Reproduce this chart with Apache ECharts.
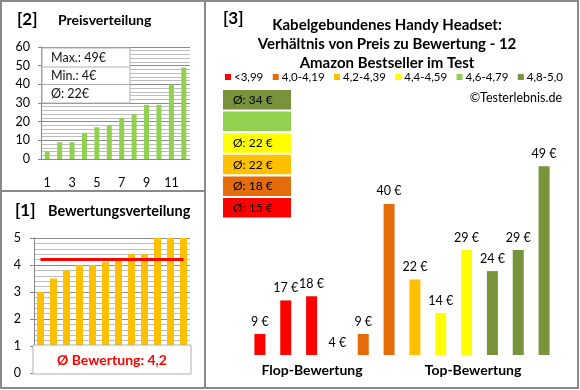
<!DOCTYPE html>
<html><head><meta charset="utf-8">
<script src="https://cdn.jsdelivr.net/npm/echarts@6/dist/echarts.min.js"></script>
<style>html,body{margin:0;padding:0;background:#fff}#c{width:580px;height:390px}</style>
</head><body><div id="c"></div>
<script>
// ---- data ----
const priceCats = ['1','2','3','4','5','6','7','8','9','10','11','12'];
const pricesSorted = [4, 9, 9, 14, 17, 18, 22, 24, 29, 29, 40, 49];
const ratingsSorted = [3.0, 3.5, 3.8, 4.0, 4.0, 4.1, 4.2, 4.4, 4.4, 5.0, 5.0, 5.0];
const avgRating = 4.2;
const avgRatingText = 'Ø Bewertung: 4,2';
const priceStats = ['Max.: 49€', 'Min.: 4€', 'Ø: 22€'];
const productPrices = [9, 17, 18, 4, 9, 40, 22, 14, 29, 24, 29, 49];
const productRatings = [3.0, 3.5, 3.8, 4.0, 4.0, 4.1, 4.2, 4.4, 4.4, 5.0, 5.0, 5.0];
const classNames = ['<3,99', '4,0-4,19', '4,2-4,39', '4,4-4,59', '4,6-4,79', '4,8-5,0'];
const classColors = ['#FF0000', '#E46C0A', '#FFC000', '#FFFF00', '#92D050', '#77933C'];
const classLower = [0, 4.0, 4.2, 4.4, 4.6, 4.8];
const classAvgLabels = ['Ø: 15 €', 'Ø: 18 €', 'Ø: 22 €', 'Ø: 22 €', '', 'Ø: 34 €'];
const titleLines = ['Kabelgebundenes Handy Headset:', 'Verhältnis von Preis zu Bewertung - 12', 'Amazon Bestseller im Test'];

// ---- layout ----
const FONT = 'Lato, "Liberation Sans", sans-serif';
function classOf(r){ let k=0; for(let i=0;i<classLower.length;i++){ if(r>=classLower[i]-1e-9) k=i; } return k; }

const graphics = [];
// frame
graphics.push({type:'rect', shape:{x:1,y:1,width:577,height:387}, style:{fill:'none', stroke:'#8a8a8a', lineWidth:2}, z:200});
graphics.push({type:'line', shape:{x1:205,y1:1,x2:205,y2:388}, style:{stroke:'#8a8a8a', lineWidth:2}, z:200});
graphics.push({type:'line', shape:{x1:1,y1:191,x2:205,y2:191}, style:{stroke:'#8a8a8a', lineWidth:2}, z:200});
// titles
function txt(x,y,t,size,opts){ return {type:'text', x:x, y:y, z:150, style:Object.assign({text:t, font:'bold '+size+'px '+FONT, fill:'#000', verticalAlign:'middle'}, opts||{})}; }
graphics.push(txt(17,20,'[2]',17));
graphics.push(txt(58,20,'Preisverteilung',14));
graphics.push(txt(15,211,'[1]',17));
graphics.push(txt(48,211,'Bewertungsverteilung',14.5));
graphics.push(txt(223,19,'[3]',17));
titleLines.forEach((t,i)=>graphics.push(txt(387,25+i*19,t,15,{align:'center'})));
// stats box
graphics.push({type:'rect', shape:{x:42,y:48,width:88,height:55}, style:{fill:'#fff', stroke:'#b0b0b0', lineWidth:1}, z:100});
graphics.push({type:'line', shape:{x1:42,y1:67,x2:130,y2:67}, style:{stroke:'#b0b0b0'}, z:101});
graphics.push({type:'line', shape:{x1:42,y1:84.5,x2:130,y2:84.5}, style:{stroke:'#b0b0b0'}, z:101});
priceStats.forEach((t,i)=>graphics.push({type:'text', x:51, y:58+i*18, z:110, style:{text:t, font:'12.5px '+FONT, fill:'#111', verticalAlign:'middle'}}));
// rating avg box
graphics.push({type:'rect', shape:{x:33,y:345,width:158,height:29}, style:{fill:'#fff', stroke:'#b0b0b0', lineWidth:1}, z:100});
graphics.push({type:'text', x:112, y:360, z:110, style:{text:avgRatingText, font:'bold 14px '+FONT, fill:'#FF0000', align:'center', verticalAlign:'middle'}});
// legend: auto-laid out between x=225 and x=563
const legFont = '11.5px ' + FONT;
const cv = document.createElement('canvas').getContext('2d'); cv.font = legFont;
const sq = 6, sqGap = 3, legL = 225, legR = 563;
const widths = classNames.map(n=>cv.measureText(n).width);
const used = widths.reduce((a,b)=>a+b,0) + classNames.length*(sq+sqGap);
const gap = Math.max(2, (legR-legL-used)/(classNames.length-1));
let lx = legL;
classNames.forEach((n,i)=>{
  graphics.push({type:'rect', shape:{x:lx, y:74, width:sq, height:sq}, style:{fill:classColors[i]}, z:100});
  graphics.push({type:'text', x:lx+sq+sqGap, y:77.5, z:100, style:{text:n, font:legFont, fill:'#000', verticalAlign:'middle'}});
  lx += sq + sqGap + widths[i] + gap;
});
graphics.push({type:'text', x:562, y:98, z:100, style:{text:'©Testerlebnis.de', font:'12.5px '+FONT, fill:'#000', align:'right', verticalAlign:'middle'}});
// class average boxes
classNames.forEach((n,i)=>{
  const y = 90 + (5-i)*21.6;
  graphics.push({type:'rect', shape:{x:223,y:y,width:68,height:19.5}, style:{fill:classColors[i]}, z:100});
  if(classAvgLabels[i]) graphics.push({type:'text', x:233, y:y+10, z:101, style:{text:classAvgLabels[i], font:'12px '+FONT, fill:'#000', verticalAlign:'middle'}});
});
graphics.push(txt(312,370,'Flop-Bewertung',14,{align:'center'}));
graphics.push(txt(473,370,'Top-Bewertung',14,{align:'center'}));

const axisLbl = {color:'#000', fontFamily:FONT, fontSize:12.5};
const option = {
  animation:false,
  backgroundColor:'#fff',
  grid:[
    {left:41, top:47, width:149, height:112},
    {left:34, top:238, width:156, height:135},
    {left:247, top:162, width:310, height:193}
  ],
  xAxis:[
    {gridIndex:0, type:'category', data:priceCats, axisLine:{lineStyle:{color:'#888'}}, axisTick:{show:false}, axisLabel:Object.assign({interval:1, margin:17}, axisLbl)},
    {gridIndex:1, type:'category', data:priceCats, axisLine:{lineStyle:{color:'#888'}}, axisTick:{show:false}, axisLabel:{show:false}},
    {gridIndex:2, type:'category', data:priceCats, show:false}
  ],
  yAxis:[
    {gridIndex:0, type:'value', min:0, max:60, interval:10, axisLine:{show:true, lineStyle:{color:'#888'}}, axisTick:{show:true, length:3, lineStyle:{color:'#888'}},
     axisLabel:Object.assign({margin:11}, axisLbl), splitLine:{lineStyle:{color:'#8c8c8c'}}, minorTick:{show:false, splitNumber:5}, minorSplitLine:{show:true, lineStyle:{color:'#bdbdbd'}}},
    {gridIndex:1, type:'value', min:0, max:5, interval:1, axisLine:{show:true, lineStyle:{color:'#888'}}, axisTick:{show:true, length:4, lineStyle:{color:'#888'}},
     axisLabel:Object.assign({margin:13}, axisLbl), splitLine:{lineStyle:{color:'#8c8c8c'}}, minorTick:{show:false, splitNumber:5}, minorSplitLine:{show:true, lineStyle:{color:'#bdbdbd'}}},
    {gridIndex:2, type:'value', min:4, max:50, show:false}
  ],
  series:[
    {type:'bar', xAxisIndex:0, yAxisIndex:0, data:pricesSorted, barWidth:5, itemStyle:{color:'#92D050'}},
    {type:'bar', xAxisIndex:1, yAxisIndex:1, data:ratingsSorted, barWidth:7, itemStyle:{color:'#FFC000'},
     markLine:{symbol:'none', silent:true, label:{show:false}, lineStyle:{color:'#FF0000', width:3, type:'solid'},
       data:[[{coord:[0, avgRating]}, {coord:[priceCats.length-1, avgRating]}]]}},
    {type:'bar', xAxisIndex:2, yAxisIndex:2, barWidth:11,
     data:productPrices.map((p,i)=>({value:p, itemStyle:{color:classColors[classOf(productRatings[i])]}})),
     label:{show:true, position:'top', distance:6, formatter:'{c} €', color:'#000', fontFamily:FONT, fontSize:12.5}}
  ],
  graphic:graphics
};
const chart = echarts.init(document.getElementById('c'), null, {renderer:'canvas'});
chart.setOption(option);
</script>
</body></html>
